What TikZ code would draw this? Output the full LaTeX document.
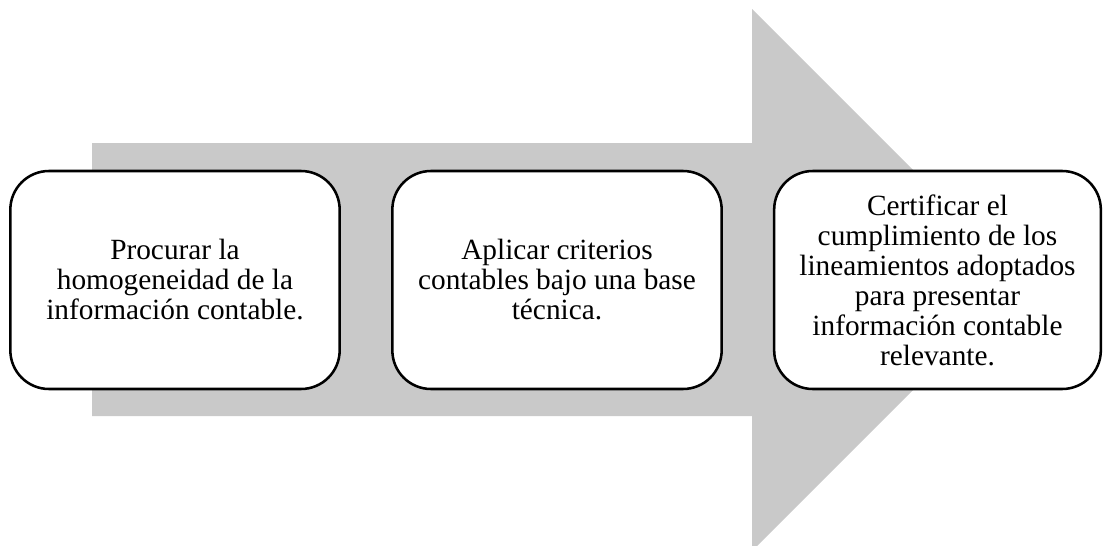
\documentclass[tikz,border=0pt]{standalone}
\usepackage{fontspec}
\setmainfont{Liberation Serif}
\usetikzlibrary{positioning}

\definecolor{flechagris}{RGB}{201,201,201}

\tikzset{
    paso/.style={draw=black, line width=1.9pt, fill=white, rounded corners=29pt,
        minimum width=247pt, minimum height=163.5pt, align=center, inner sep=0pt,
        font=\fontsize{22pt}{22.5pt}\selectfont}
}

\begin{document}
\begin{tikzpicture}[x=0.75pt,y=-0.75pt]

            % Page frame
            \clip (0,0) rectangle (1104,546);

            % Big gray arrow in the background
            \fill[flechagris] (92,143) -- (752,143) -- (752,9) -- (1023,280)
                -- (752,551) -- (752,416) -- (92,416) -- cycle;

            % Three steps
            \node[paso] (procurar) at (175,280)
                {Procurar la\\homogeneidad de la\\información contable.};
            \node[paso] (aplicar) at (557,280)
                {Aplicar criterios\\contables bajo una base\\técnica.};
            \node[paso, minimum width=245pt] (certificar) at (937.5,280)
                {Certificar el\\cumplimiento de los\\lineamientos adoptados\\para presentar\\información contable\\relevante.};

\end{tikzpicture}
\end{document}
